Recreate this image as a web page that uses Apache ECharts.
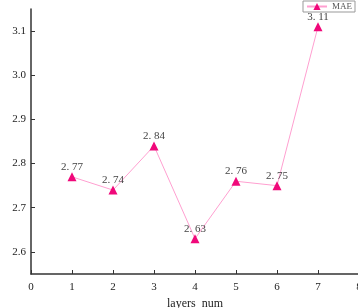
<!DOCTYPE html>
<html>
<head>
<meta charset="utf-8">
<script src="https://cdn.jsdelivr.net/npm/echarts@6/dist/echarts.min.js"></script>
<style>
  html, body { margin: 0; padding: 0; background: #fff; }
  #chart { width: 358px; height: 308px; }
</style>
</head>
<body>
<div id="chart"></div>
<script>
const layers = [1, 2, 3, 4, 5, 6, 7];
const mae = [2.77, 2.74, 2.84, 2.63, 2.76, 2.75, 3.11];

const chart = echarts.init(document.getElementById('chart'));

const font = '"Liberation Serif", "Times New Roman", serif';

chart.setOption({
  animation: false,
  grid: { left: 31, top: 9, width: 328, bottom: 34, containLabel: false, outerBoundsMode: 'none' },
  legend: {
    data: ['MAE'],
    right: 3,
    top: 1,
    padding: [1, 3, 1, 3],
    itemWidth: 20,
    itemHeight: 9,
    itemGap: 4,
    borderColor: '#999',
    borderWidth: 1,
    itemStyle: { borderWidth: 0 },
    textStyle: { fontFamily: font, fontSize: 9, color: '#555' }
  },
  xAxis: {
    type: 'value',
    min: 0,
    max: 8,
    interval: 1,
    name: 'layers_num',
    nameLocation: 'middle',
    nameGap: 21,
    nameTextStyle: { fontFamily: font, fontSize: 12, color: '#222' },
    axisLine: { lineStyle: { color: '#333', width: 1.5 } },
    axisTick: { inside: true, length: 4, lineStyle: { color: '#333' } },
    axisLabel: { fontFamily: font, fontSize: 11, color: '#222', margin: 8 },
    splitLine: { show: false }
  },
  yAxis: {
    type: 'value',
    min: 2.55,
    max: 3.15,
    splitNumber: 6,
    name: 'MAE',
    nameLocation: 'middle',
    nameGap: 24,
    nameTextStyle: { fontFamily: font, fontSize: 12, color: '#222' },
    axisLine: { show: true, lineStyle: { color: '#333', width: 1.5 } },
    axisTick: { show: true, inside: true, length: 4, lineStyle: { color: '#333' } },
    axisLabel: {
      fontFamily: font, fontSize: 11, color: '#222', margin: 5,
      showMinLabel: false, showMaxLabel: false,
      formatter: v => v.toFixed(1)
    },
    splitLine: { show: false }
  },
  series: [{
    name: 'MAE',
    type: 'line',
    data: layers.map((x, i) => [x, mae[i]]),
    symbol: 'triangle',
    symbolSize: 9,
    lineStyle: { color: '#ff9fd0', width: 1 },
    itemStyle: { color: '#f0087a' },
    label: {
      show: true,
      position: 'top',
      distance: 0,
      fontFamily: font,
      fontSize: 11,
      color: '#444',
      formatter: p => p.value[1].toFixed(2).replace('.', '. ')
    }
  }]
});
</script>
</body>
</html>
